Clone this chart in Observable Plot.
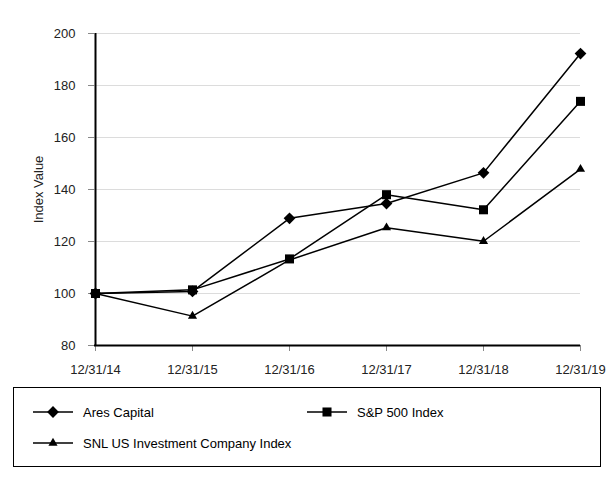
<!DOCTYPE html>
<html><head><meta charset="utf-8">
<script src="https://cdn.jsdelivr.net/npm/d3@7"></script>
<script src="https://cdn.jsdelivr.net/npm/@observablehq/plot@0.6"></script>
<style>
body{margin:0;background:#fff;font-family:"Liberation Sans",Arial,sans-serif;}
#legend{position:relative;margin-left:13px;margin-top:7px;width:588px;height:80px;border:1.5px solid #000;box-sizing:border-box;font-size:13px;color:#000;}
.item{position:absolute;display:flex;align-items:center;height:16px;}
.item span{margin-left:10px;white-space:nowrap;}
</style></head><body><div id="chart"></div><div id="legend"></div>
<script>
const dates = ["12/31/14","12/31/15","12/31/16","12/31/17","12/31/18","12/31/19"];
const aresCapital = [100, 100.8, 128.9, 134.6, 146.4, 192.3];
const sp500Index = [100, 101.4, 113.3, 138.0, 132.2, 173.9];
const snlInvestment = [100, 91.3, 112.9, 125.3, 120.1, 147.8];
const seriesNames = ["Ares Capital", "S&P 500 Index", "SNL US Investment Company Index"];
const yTicks = [80, 100, 120, 140, 160, 180, 200];

const seriesValues = [aresCapital, sp500Index, snlInvestment];
const look = [
  {symbol: "diamond2", r: 5.3},
  {symbol: "square", r: 5.1},
  {symbol: "triangle", r: 3.4}
];
const rows = seriesNames.map((name, k) => dates.map((d, i) => ({date: d, value: seriesValues[k][i], series: name})));

const marks = [
  Plot.gridY(yTicks, {stroke: "#dcdcdc", strokeOpacity: 1}),
  Plot.axisY(yTicks, {tickSize: 6, tickPadding: 13, stroke: "#888", label: "Index Value", labelAnchor: "center", labelArrow: "none", labelOffset: 61}),
  Plot.axisX({tickSize: 6, tickPadding: 13, stroke: "#888", label: null}),
  Plot.ruleY([80], {stroke: "#000", strokeWidth: 2}),
  Plot.ruleX([dates[0]], {stroke: "#000", strokeWidth: 2})
];
rows.forEach((r, k) => {
  marks.push(Plot.line(r, {x: "date", y: "value", stroke: "#000", strokeWidth: 1.5}));
  marks.push(Plot.dot(r, {x: "date", y: "value", symbol: look[k].symbol, r: look[k].r, fill: "#000", stroke: "none"}));
});

const chart = Plot.plot({
  width: 614, height: 380,
  marginLeft: 94, marginRight: 34, marginTop: 33, marginBottom: 35,
  style: {fontFamily: '"Liberation Sans", Arial, sans-serif', fontSize: "13px", color: "#222", background: "#fff"},
  x: {type: "point", domain: dates, padding: 0},
  y: {domain: [80, 200]},
  marks
});
document.getElementById("chart").appendChild(chart);

// legend
const legend = d3.select("#legend");
const pos = [{left: 19, top: 16}, {left: 293, top: 16}, {left: 19, top: 47}];
seriesNames.forEach((name, k) => {
  const it = legend.append("div").attr("class", "item").style("left", pos[k].left + "px").style("top", pos[k].top + "px");
  const svg = it.append("svg").attr("width", 40).attr("height", 16);
  svg.append("line").attr("x1", 0).attr("x2", 40).attr("y1", 8).attr("y2", 8).attr("stroke", "#000").attr("stroke-width", 1.5);
  const symMap = {diamond2: d3.symbolDiamond2, square: d3.symbolSquare, triangle: d3.symbolTriangle};
  svg.append("path").attr("transform", "translate(20,8)")
    .attr("d", d3.symbol(symMap[look[k].symbol], Math.PI * look[k].r * look[k].r)())
    .attr("fill", "#000");
  it.append("span").text(name);
});
</script></body></html>
